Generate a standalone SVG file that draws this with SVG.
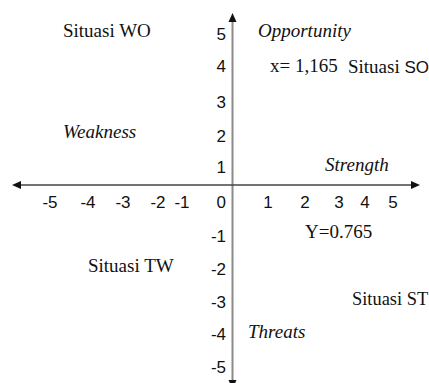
<svg xmlns="http://www.w3.org/2000/svg" width="429" height="383" viewBox="0 0 429 383">
<style>
.num{font-family:"Liberation Sans",Arial,sans-serif;font-size:17px;fill:#111}
.lbl{font-family:"Liberation Serif","Times New Roman",serif;font-size:19px;fill:#111}
.it{font-style:italic}
.sans{font-family:"Liberation Sans",Arial,sans-serif;font-size:17px}
</style>
<rect width="429" height="383" fill="#fff"/>
<g id="connectors">
<line x1="232.5" y1="21" x2="232.5" y2="383" stroke="#8a8a8a" stroke-width="2"/>
<polygon points="232.5,13 228.5,22 236.5,22" fill="#111"/>
<polygon points="232.5,389 228.5,380 236.5,380" fill="#111"/>
<line x1="19" y1="185" x2="413" y2="185" stroke="#444" stroke-width="1.5"/>
<polygon points="12,185 21,181 21,189" fill="#111"/>
<polygon points="420,185 411,181 411,189" fill="#111"/>
</g>
<g id="y-ticks" class="num" text-anchor="end">
<text x="226" y="40">5</text>
<text x="226" y="72">4</text>
<text x="226" y="108">3</text>
<text x="226" y="142">2</text>
<text x="226" y="173">1</text>
<text x="226" y="208">0</text>
<text x="226" y="242">-1</text>
<text x="226" y="275">-2</text>
<text x="226" y="308">-3</text>
<text x="226" y="340">-4</text>
<text x="226" y="373">-5</text>
</g>
<g id="x-ticks" class="num" text-anchor="middle">
<text x="50" y="208">-5</text>
<text x="88" y="208">-4</text>
<text x="123" y="208">-3</text>
<text x="158" y="208">-2</text>
<text x="182" y="208">-1</text>
<text x="268" y="208">1</text>
<text x="305" y="208">2</text>
<text x="339" y="208">3</text>
<text x="365" y="208">4</text>
<text x="393" y="208">5</text>
</g>
<g id="wo"><text class="lbl" x="63" y="37">Situasi WO</text></g>
<g id="opportunity"><text class="lbl it" x="258" y="37">Opportunity</text></g>
<g id="xval"><text class="lbl" x="270" y="72">x= 1,165</text></g>
<g id="so"><text class="lbl" x="348" y="73">Situasi <tspan class="sans">SO</tspan></text></g>
<g id="weakness"><text class="lbl it" x="63" y="138">Weakness</text></g>
<g id="strength"><text class="lbl it" x="325" y="171">Strength</text></g>
<g id="yval"><text class="lbl" x="305" y="238">Y=0.765</text></g>
<g id="tw"><text class="lbl" x="88" y="272">Situasi TW</text></g>
<g id="st"><text class="lbl" x="352" y="305" style="font-size:18.4px">Situasi ST</text></g>
<g id="threats"><text class="lbl it" x="248" y="338">Threats</text></g>
</svg>
